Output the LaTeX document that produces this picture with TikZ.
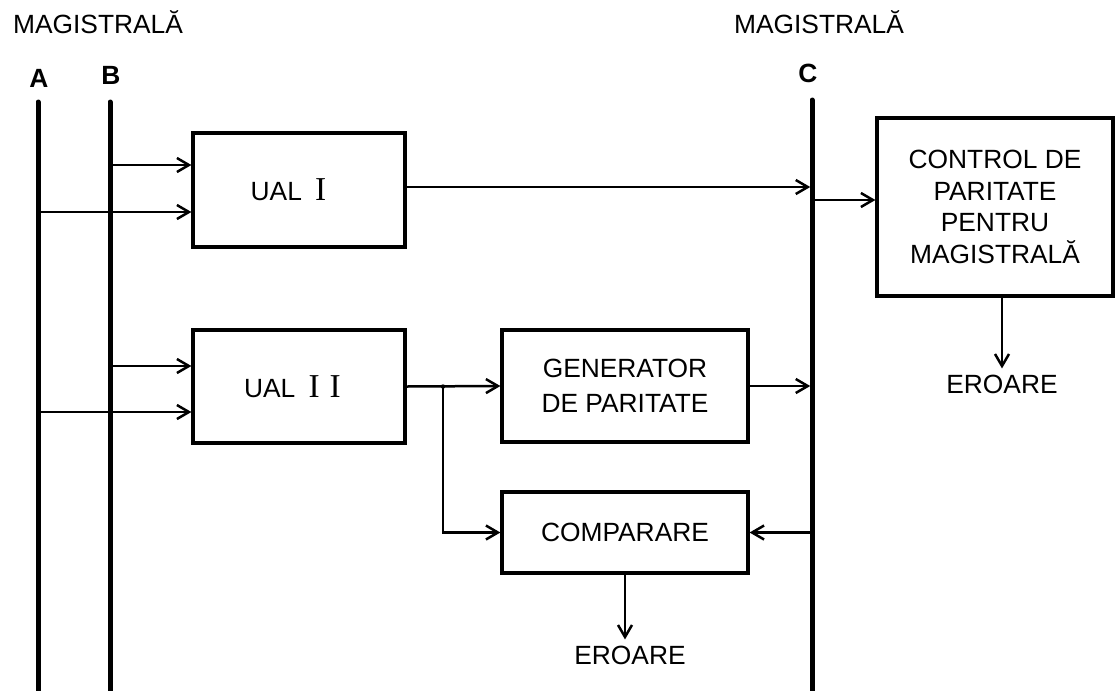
\documentclass[tikz,border=0pt]{standalone}
\usepackage{fontspec}
\newfontfamily\arialfont{Liberation Sans}
\newfontfamily\timesfont{Liberation Serif}
\usetikzlibrary{arrows.meta,positioning,calc}

\newcommand{\romnum}[1]{{\timesfont\fontsize{19}{20}\selectfont #1}}

\begin{document}
\begin{tikzpicture}[
  x=0.02cm, y=-0.02cm,
  every node/.style={
    align=center,
    font=\arialfont\fontsize{15}{18}\selectfont
  },
  block/.style={draw, line width=0.065cm, inner sep=0pt},
  bus/.style={line width=0.1cm, line cap=round},
  tag/.style={font=\arialfont\bfseries\fontsize{15}{18}\selectfont},
  arrow/.style={-{Straight Barb[length=2.4mm, width=2.8mm]}, line width=0.05cm}
]
  \useasboundingbox (0,0) rectangle (1115,690);

  % buses
  \coordinate (Atop) at (38,102);  \coordinate (Abot) at (38,700);
  \coordinate (Btop) at (110,102); \coordinate (Bbot) at (110,700);
  \coordinate (Ctop) at (812,100); \coordinate (Cbot) at (812,700);
  \draw[bus] (Atop) -- (Abot);
  \draw[bus] (Btop) -- (Bbot);
  \draw[bus] (Ctop) -- (Cbot);

  \node (magL) at (98,22) {MAGISTRALĂ};
  \node (magR) at (819,22) {MAGISTRALĂ};
  \node[tag] (labA) at (39,78) {A};
  \node[tag] (labB) at (111,75) {B};
  \node[tag] (labC) at (808,73) {C};

  % blocks
  \node[block, minimum width=4.24cm, minimum height=2.28cm] (ualI) at (299,190) {UAL\hspace{0.5em}\romnum{I}\hspace{0.8em}};
  \node[block, minimum width=4.24cm, minimum height=2.26cm] (ualII) at (299,386.5) {UAL\hspace{0.5em}\romnum{I\hspace{0.3em}I}\hspace{0.5em}};
  \node[block, minimum width=4.92cm, minimum height=2.24cm, font=\arialfont\fontsize{15}{20}\selectfont] (gen) at (625,386) {GENERATOR\\DE PARITATE};
  \node[block, minimum width=4.92cm, minimum height=1.62cm] (comp) at (625,532.5) {COMPARARE};
  \node[block, minimum width=4.72cm, minimum height=3.56cm] (ctrl) at (995,207) {CONTROL DE\\PARITATE\\PENTRU\\MAGISTRALĂ};

  \node (err1) at (630,655) {EROARE};
  \node (err2) at (1002,384) {EROARE};

  % ports
  \coordinate (uI1) at (ualI.west |- 0,165);
  \coordinate (uI2) at (ualI.west |- 0,212);
  \coordinate (uII1) at (ualII.west |- 0,366);
  \coordinate (uII2) at (ualII.west |- 0,412);
  \coordinate (uIout) at (ualI.east |- 0,187);
  \coordinate (cOut) at (ctrl.west |- 0,200);
  \coordinate (split) at (443,386.5);

  \draw[arrow] (Btop |- uI1) -- (uI1);
  \draw[arrow] (Atop |- uI2) -- (uI2);
  \draw[arrow] (Btop |- uII1) -- (uII1);
  \draw[arrow] (Atop |- uII2) -- (uII2);
  \draw[arrow, shorten >=1pt] (uIout) -- (Ctop |- uIout);
  \draw[arrow] (Ctop |- cOut) -- (cOut);
  \draw[arrow] (ctrl.south -| err2) -- (err2.north);
  \draw[arrow] (ualII.east) -- (gen.west);
  \draw[arrow] (split) |- (comp.west);
  \fill (split) circle (2.2);
  \draw[arrow, shorten >=1pt] (gen.east) -- (Ctop |- gen.east);
  \draw[arrow] (Ctop |- comp.east) -- (comp.east);
  \draw[arrow] (comp.south) -- (comp.south |- err1.north);
\end{tikzpicture}
\end{document}
